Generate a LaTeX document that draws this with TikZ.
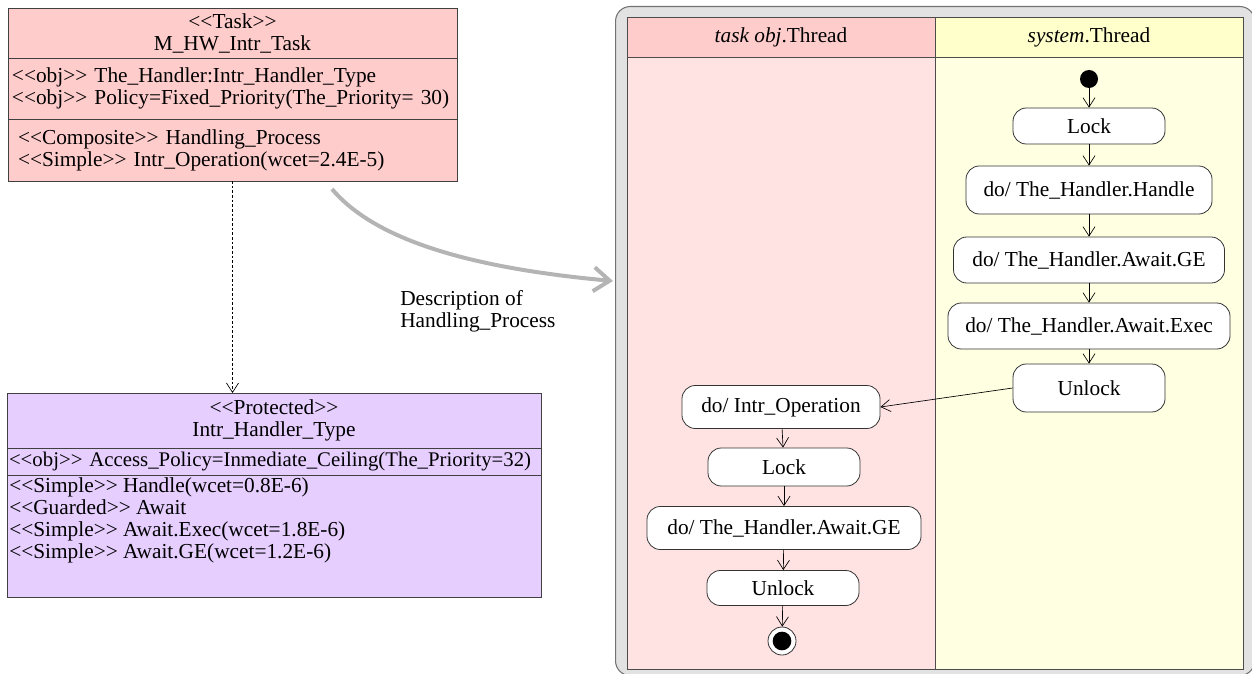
\documentclass[tikz,border=0pt]{standalone}
\usepackage{fontspec}
\setmainfont{Liberation Serif}
\usetikzlibrary{arrows.meta,positioning}

\definecolor{taskpink}{RGB}{255,204,204}
\definecolor{protlilac}{RGB}{230,206,255}
\definecolor{lanepink}{RGB}{255,226,226}
\definecolor{laneyellow}{RGB}{255,255,226}
\definecolor{headyellow}{RGB}{255,255,204}
\definecolor{framegray}{RGB}{226,226,226}
\definecolor{linkgray}{RGB}{180,180,180}

\newcommand{\stereo}[1]{<\kern0pt<#1>\kern0pt>}

\tikzset{
  comp/.style={draw=black!75, line width=0.6pt, outer sep=0pt, inner ysep=0pt},
  act/.style={draw=black!80, fill=white, rounded corners=10pt, line width=0.6pt, inner xsep=6pt, inner ysep=0pt},
  flow/.style={-{Straight Barb[length=7pt,width=9pt]}, line width=0.5pt},
  lane/.style={draw=black!70, line width=0.6pt, outer sep=0pt, minimum width=231pt},
}

\begin{document}
\begin{tikzpicture}[x=0.75pt,y=-0.75pt,font=\fontsize{16pt}{16.5pt}\selectfont]
\useasboundingbox (0,0) rectangle (1252,674);

% task class
\node[comp, fill=taskpink, anchor=north west, minimum width=336.75pt, minimum height=37.5pt, text width=330.75pt, inner xsep=3pt, align=center] (taskhead) at (8,8) {\stereo{Task}\\M\_HW\_Intr\_Task};
\node[comp, fill=taskpink, below=0pt of taskhead, minimum width=336.75pt, minimum height=45.75pt, text width=330.75pt, inner xsep=3pt, align=left] (taskattr) {\stereo{obj}~The\_Handler:Intr\_Handler\_Type\\\stereo{obj}~Policy=Fixed\_Priority(The\_Priority=~30)};
\node[comp, fill=taskpink, below=0pt of taskattr, minimum width=336.75pt, minimum height=46.5pt, text width=321.75pt, inner xsep=7.5pt, align=left] (taskops) {\stereo{Composite}~Handling\_Process\\\stereo{Simple}~Intr\_Operation(wcet=2.4E-5)};

% protected class
\node[comp, fill=protlilac, anchor=north west, minimum width=400.5pt, minimum height=41.25pt, text width=397.5pt, inner xsep=1.5pt, align=center] (prothead) at (7,393) {\stereo{Protected}\\Intr\_Handler\_Type};
\node[comp, fill=protlilac, below=0pt of prothead, minimum width=400.5pt, minimum height=20.25pt, text width=397.5pt, inner xsep=1.5pt, align=left, font=\fontsize{15.6pt}{16.5pt}\selectfont] (protattr) {\stereo{obj}~Access\_Policy=Inmediate\_Ceiling(The\_Priority=32)};
\node[comp, fill=protlilac, below=0pt of protattr, minimum width=400.5pt, minimum height=91.5pt] (protops) {};
\node[anchor=north west, inner xsep=1.5pt, inner ysep=1.5pt, align=left] (protopstxt) at (protops.north west) {\stereo{Simple}~Handle(wcet=0.8E-6)\\\stereo{Guarded}~Await\\\stereo{Simple}~Await.Exec(wcet=1.8E-6)\\\stereo{Simple}~Await.GE(wcet=1.2E-6)};

\draw[flow, dash pattern=on 2pt off 1.5pt] (taskops.south) -- (taskops.south |- prothead.north);

% description link
\coordinate (descfrom) at (332,189);
\coordinate (descto) at (613,281);
\draw[linkgray, line width=3pt, -{Straight Barb[length=12pt,width=18pt]}] (descfrom) .. controls (375,240) and (470,268) .. (descto);
\node[anchor=west, align=left, inner sep=0pt] (desc) at (400,311) {Description of\\Handling\_Process};

% swimlanes
\node[draw=black!55, fill=framegray, rounded corners=11pt, anchor=north west, minimum width=479.25pt, minimum height=501.75pt, line width=0.8pt] (swim) at (615,6) {};
\node[lane, fill=taskpink, anchor=north west, minimum height=30pt] (headT) at (627,17) {\textit{task obj}.Thread};
\node[lane, fill=headyellow, right=0pt of headT, minimum height=30pt] (headS) {\textit{system}.Thread};
\node[lane, fill=lanepink, below=0pt of headT, minimum height=459pt] (laneT) {};
\node[lane, fill=laneyellow, below=0pt of headS, minimum height=459pt] (laneS) {};

% system thread
\node[circle, fill=black, minimum size=13.5pt, inner sep=0pt] (start) at (1089,79) {};
\node[act, minimum width=114pt, minimum height=27pt] (lockS) at (1089,126) {Lock};
\node[act, minimum width=184.5pt, minimum height=36pt] (handle) at (1089,190) {do/ The\_Handler.Handle};
\node[act, minimum width=203.25pt, minimum height=34.5pt] (awaitGE) at (1089,260) {do/ The\_Handler.Await.GE};
\node[act, minimum width=211.5pt, minimum height=34.5pt] (awaitExec) at (1089,326) {do/ The\_Handler.Await.Exec};
\node[act, minimum width=114pt, minimum height=36pt] (unlockS) at (1089,388) {Unlock};

% task obj thread
\node[act, minimum width=148.5pt, minimum height=32.25pt] (intrOp) at (781,407) {do/ Intr\_Operation};
\node[act, minimum width=114pt, minimum height=28.5pt] (lockT) at (784,467) {Lock};
\node[act, minimum width=205.5pt, minimum height=32.25pt] (awaitGET) at (784,528) {do/ The\_Handler.Await.GE};
\node[act, minimum width=114pt, minimum height=26.25pt] (unlockT) at (783,588) {Unlock};
\node[circle, draw=black!80, fill=white, line width=0.6pt, minimum size=21pt, inner sep=0pt] (final) at (782,641) {};
\fill (final.center) circle (7pt);

\draw[flow] (start) -- (lockS);
\draw[flow] (lockS) -- (handle);
\draw[flow] (handle) -- (awaitGE);
\draw[flow] (awaitGE) -- (awaitExec);
\draw[flow] (awaitExec) -- (unlockS);
\draw[flow] (unlockS.west) -- (intrOp.east);
\draw[flow] (intrOp) -- (lockT);
\draw[flow] (lockT) -- (awaitGET);
\draw[flow] (awaitGET) -- (unlockT);
\draw[flow] (unlockT) -- (final);
\end{tikzpicture}
\end{document}
